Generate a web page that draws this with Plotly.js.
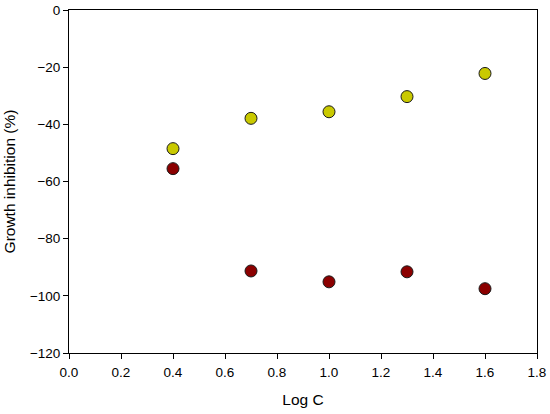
<!DOCTYPE html>
<html><head><meta charset="utf-8">
<script src="https://cdn.plot.ly/plotly-3.0.1.min.js"></script>
<style>html,body{margin:0;padding:0;background:#fff}#chart{width:550px;height:414px}</style>
</head><body><div id="chart"></div>
<script>
const logC = [0.4, 0.7, 1.0, 1.3, 1.6];
const seriesYellow = [-48.5, -37.9, -35.6, -30.3, -22.2];
const seriesRed = [-55.5, -91.3, -95.1, -91.6, -97.5];
const xTicks = [0, 0.2, 0.4, 0.6, 0.8, 1.0, 1.2, 1.4, 1.6, 1.8];
const yTicks = [-120, -100, -80, -60, -40, -20, 0];

const mk = (c) => ({size: 12, color: c, line: {color: '#1a1a1a', width: 1}});
const data = [
  {x: logC, y: seriesYellow, type: 'scatter', mode: 'markers', marker: mk('#c9c900'), showlegend: false},
  {x: logC, y: seriesRed, type: 'scatter', mode: 'markers', marker: mk('#8b0000'), showlegend: false}
];
const font = {family: 'Liberation Sans, Arial, sans-serif', size: 13.5, color: '#000'};
const layout = {
  width: 550, height: 414,
  margin: {l: 69, r: 13, t: 10, b: 61},
  paper_bgcolor: '#fff', plot_bgcolor: '#fff',
  font: font,
  xaxis: {
    range: [0, 1.8], tickvals: xTicks, ticktext: xTicks.map(v => v.toFixed(1)),
    ticks: 'outside', ticklen: 5, tickwidth: 1, tickcolor: '#000',
    ticklabelstandoff: 2,
    showline: true, linecolor: '#000', linewidth: 1, mirror: true,
    showgrid: false, zeroline: false,
    title: {text: 'Log C', font: {size: 15.5}, standoff: 14}
  },
  yaxis: {
    range: [-120, 0], tickvals: yTicks,
    ticks: 'outside', ticklen: 5, tickwidth: 1, tickcolor: '#000',
    showline: true, linecolor: '#000', linewidth: 1, mirror: true,
    showgrid: false, zeroline: false,
    title: {text: 'Growth inhibition (%)', font: {size: 15.5}, standoff: 10}
  }
};
Plotly.newPlot('chart', data, layout, {staticPlot: true, displayModeBar: false});
</script></body></html>
